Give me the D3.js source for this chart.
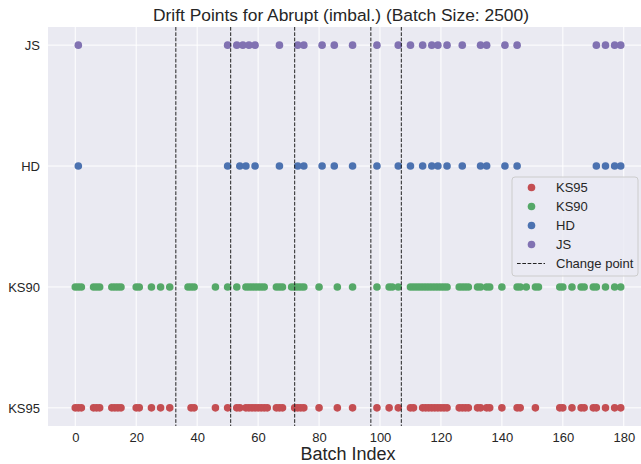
<!DOCTYPE html>
<html>
<head>
<meta charset="utf-8">
<script src="https://cdn.jsdelivr.net/npm/d3@7"></script>
<style>
  body { margin: 0; background: #fff; }
  text { font-family: "Liberation Sans", Arial, sans-serif; fill: #262626; }
</style>
</head>
<body>
<svg id="chart"></svg>
<script>
// Drift detections per detector (batch index)
const detectors = ["KS95", "KS90", "HD", "JS"];
const ks95 = [0, 1, 2, 6, 7, 8, 12, 13, 14, 15, 20, 21, 25, 28, 31, 38, 39, 46, 50, 53, 54,
    56, 57, 58, 59, 60, 61, 62, 63, 66, 67, 68, 72, 73, 74, 75, 80, 86, 91, 99, 103, 106,
    110, 111, 114, 115, 116, 117, 118, 119, 120, 121, 122, 126, 127, 128, 129, 132, 133,
    135, 136, 140, 145, 146, 151, 159, 160, 163, 166, 167, 170, 171, 174, 177, 179];
const ks90 = [0, 1, 2, 6, 7, 8, 12, 13, 14, 15, 20, 21, 25, 28, 31, 37, 38, 39, 46, 50, 53,
    56, 57, 58, 59, 60, 61, 62, 66, 67, 68, 71, 72, 73, 74, 75, 80, 86, 91, 99, 103, 104, 106,
    110, 111, 112, 113, 114, 115, 116, 117, 118, 119, 120, 121, 122, 126, 127, 128, 129,
    132, 133, 135, 136, 140, 145, 146, 148, 151, 152, 159, 160, 163, 166, 167, 170, 171,
    174, 177, 179];
const hd = [1, 50, 54, 56, 59, 67, 73, 75, 81, 85, 91, 99, 106, 110, 114, 117, 119, 122,
    127, 133, 135, 141, 145, 171, 174, 177, 179];
const js = [1, 50, 53, 55, 57, 59, 67, 73, 75, 81, 85, 91, 99, 106, 110, 114, 117, 119, 122,
    127, 133, 135, 141, 145, 171, 174, 177, 179];
const changePoints = [33, 51, 72, 97, 107];
const xTicks = [0, 20, 40, 60, 80, 100, 120, 140, 160, 180];

const series = [
    { name: "KS95", values: ks95, color: "#C44E52" },
    { name: "KS90", values: ks90, color: "#55A868" },
    { name: "HD", values: hd, color: "#4C72B0" },
    { name: "JS", values: js, color: "#8172B2" }
];

const width = 641;
const height = 464;
const margin = { top: 27, right: -7, bottom: 38, left: 48 };

const svg = d3.select("#chart")
    .attr("width", width)
    .attr("height", height);

const plotW = width - margin.left - margin.right;
const plotH = height - margin.top - margin.bottom;

// matplotlib style 5% padding
const x = d3.scaleLinear()
    .domain([-8.95, 187.95])
    .range([margin.left, margin.left + plotW]);

const y = d3.scaleLinear()
    .domain([-0.15, 3.15])
    .range([margin.top + plotH, margin.top]);

// Background
svg.append("rect")
    .attr("x", margin.left)
    .attr("y", margin.top)
    .attr("width", plotW)
    .attr("height", plotH)
    .attr("fill", "#EAEAF2");

// Grid
const grid = svg.append("g");
grid.selectAll(".vgrid")
    .data(xTicks)
    .join("line")
    .attr("x1", d => x(d)).attr("x2", d => x(d))
    .attr("y1", margin.top).attr("y2", margin.top + plotH)
    .attr("stroke", "#fff").attr("stroke-width", 1);
grid.selectAll(".hgrid")
    .data(detectors)
    .join("line")
    .attr("x1", margin.left).attr("x2", margin.left + plotW)
    .attr("y1", (d, i) => y(i)).attr("y2", (d, i) => y(i))
    .attr("stroke", "#fff").attr("stroke-width", 1);

// Axes (no spines)
const xAxis = svg.append("g")
    .attr("transform", `translate(0,${margin.top + plotH})`)
    .call(d3.axisBottom(x).tickValues(xTicks).tickSize(0).tickPadding(7));
xAxis.select(".domain").remove();
xAxis.selectAll("text").style("font-size", "13px").attr("fill", "#262626");

const yAxis = svg.append("g")
    .attr("transform", `translate(${margin.left},0)`)
    .call(d3.axisLeft(y).tickValues([0, 1, 2, 3]).tickFormat(i => detectors[i]).tickSize(0).tickPadding(8));
yAxis.select(".domain").remove();
yAxis.selectAll("text").style("font-size", "13px").attr("fill", "#262626");

// Points
series.forEach((s, i) => {
    svg.append("g")
        .selectAll("circle")
        .data(s.values)
        .join("circle")
        .attr("cx", d => x(d))
        .attr("cy", y(i))
        .attr("r", 3.8)
        .attr("fill", s.color);
});

// Change points
svg.append("g")
    .selectAll("line")
    .data(changePoints)
    .join("line")
    .attr("x1", d => x(d)).attr("x2", d => x(d))
    .attr("y1", margin.top).attr("y2", margin.top + plotH)
    .attr("stroke", "#222")
    .attr("stroke-width", 1)
    .attr("stroke-dasharray", "3.7,1.6");

// Title and label
svg.append("text")
    .attr("x", 341)
    .attr("y", 21)
    .attr("text-anchor", "middle")
    .style("font-size", "17.4px")
    .text("Drift Points for Abrupt (imbal.) (Batch Size: 2500)");

svg.append("text")
    .attr("x", 348)
    .attr("y", 460)
    .attr("text-anchor", "middle")
    .style("font-size", "18px")
    .text("Batch Index");

// Legend
const legend = svg.append("g").attr("transform", "translate(512,177)");
legend.append("rect")
    .attr("width", 126)
    .attr("height", 99)
    .attr("rx", 3)
    .attr("fill", "#EAEAF2")
    .attr("fill-opacity", 0.8)
    .attr("stroke", "#cccccc");

const items = series.map(s => ({ name: s.name, color: s.color, type: "dot" }))
    .concat([{ name: "Change point", color: "#222", type: "line" }]);

items.forEach((it, i) => {
    const row = legend.append("g").attr("transform", `translate(0,${10.5 + i * 19})`);
    if (it.type === "dot") {
        row.append("circle").attr("cx", 19.5).attr("cy", 0).attr("r", 3.8).attr("fill", it.color);
    } else {
        row.append("line")
            .attr("x1", 5).attr("x2", 33)
            .attr("stroke", it.color).attr("stroke-width", 1)
            .attr("stroke-dasharray", "3.7,1.6");
    }
    row.append("text")
        .attr("x", 44)
        .attr("y", 4.5)
        .style("font-size", "13px")
        .text(it.name);
});
</script>
</body>
</html>
